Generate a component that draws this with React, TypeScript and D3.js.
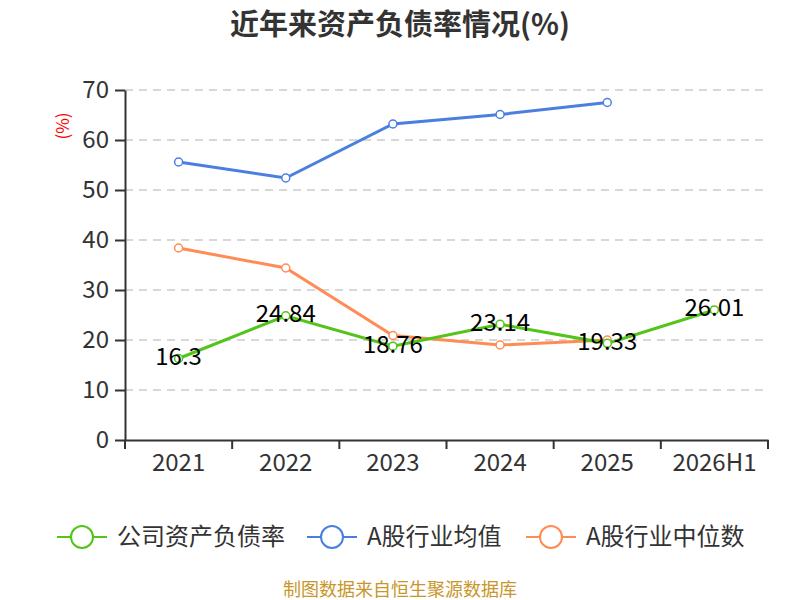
import { useEffect, useRef } from 'react'
import * as d3 from 'd3'

const categories = ['2021', '2022', '2023', '2024', '2025', '2026H1']
const companyRate = [16.3, 24.84, 18.76, 23.14, 19.33, 26.01]
const industryMean = [55.6, 52.4, 63.2, 65.1, 67.5, null]
const industryMedian = [38.4, 34.4, 20.9, 19.0, 20.0, null]
const yTicks = [0, 10, 20, 30, 40, 50, 60, 70]

const seriesNames = ['公司资产负债率', 'A股行业均值', 'A股行业中位数']
const colors = ['#52c41a', '#4a7fe0', '#ff8c55']

const width = 800
const height = 600
const margin = { top: 90, right: 32, bottom: 160, left: 125 }
const font = '"Noto Sans CJK SC", "Noto Sans", sans-serif'

const App = () => {
  const svgRef = useRef<SVGSVGElement>(null)

  useEffect(() => {
    if (!svgRef.current) return
    d3.select(svgRef.current).selectAll('*').remove()
    const svg = d3.select(svgRef.current)

    const x = d3.scaleBand()
      .domain(categories)
      .range([margin.left, width - margin.right])

    const y = d3.scaleLinear()
      .domain([0, 70])
      .range([height - margin.bottom, margin.top])

    const cx = (c: string) => (x(c) || 0) + x.bandwidth() / 2

    // title
    svg.append('text')
      .attr('x', width / 2)
      .attr('y', 35)
      .attr('text-anchor', 'middle')
      .attr('font-family', font)
      .attr('font-size', 29)
      .attr('font-weight', 'bold')
      .attr('fill', '#333')
      .text('近年来资产负债率情况(%)')

    // y axis label
    svg.append('text')
      .attr('transform', `translate(69,126) rotate(-90)`)
      .attr('text-anchor', 'middle')
      .attr('font-family', font)
      .attr('font-size', 17)
      .attr('fill', '#ff0000')
      .text('(%)')

    // grid
    svg.append('g')
      .selectAll('line')
      .data(yTicks.filter(t => t > 0))
      .join('line')
      .attr('x1', margin.left)
      .attr('x2', width - margin.right)
      .attr('y1', d => y(d))
      .attr('y2', d => y(d))
      .attr('stroke', '#ccc')
      .attr('stroke-width', 1.5)
      .attr('stroke-dasharray', '8,6')

    // y axis
    const yAxis = svg.append('g')
      .attr('transform', `translate(${margin.left},0)`)
      .call(d3.axisLeft(y).tickValues(yTicks).tickSize(10).tickPadding(6).tickSizeOuter(0))
    yAxis.selectAll('path, line').attr('stroke', '#333').attr('stroke-width', 2)
    yAxis.selectAll('text')
      .attr('font-family', font)
      .attr('font-size', 24)
      .attr('fill', '#333')

    // x axis
    const xAxis = svg.append('g')
      .attr('transform', `translate(0,${height - margin.bottom})`)
      .call(d3.axisBottom(x).tickSize(0).tickPadding(14).tickSizeOuter(0))
    xAxis.select('path').attr('stroke', '#333').attr('stroke-width', 2)
    xAxis.selectAll('text')
      .attr('font-family', font)
      .attr('font-size', 24)
      .attr('fill', '#333')
    const bounds = categories.map(c => x(c) || 0).concat([width - margin.right])
    xAxis.selectAll('line.bnd')
      .data(bounds)
      .join('line')
      .attr('class', 'bnd')
      .attr('x1', d => d)
      .attr('x2', d => d)
      .attr('y1', 0)
      .attr('y2', 9)
      .attr('stroke', '#333')
      .attr('stroke-width', 2)

    const allSeries = [companyRate, industryMean, industryMedian]
    const drawOrder = [1, 2, 0]

    drawOrder.forEach(si => {
      const vals = allSeries[si]
      const pts = categories
        .map((c, i) => ({ c, v: vals[i] }))
        .filter(d => d.v !== null) as { c: string; v: number }[]

      const line = d3.line<{ c: string; v: number }>()
        .x(d => cx(d.c))
        .y(d => y(d.v))

      svg.append('path')
        .datum(pts)
        .attr('fill', 'none')
        .attr('stroke', colors[si])
        .attr('stroke-width', 3)
        .attr('d', line)

      svg.append('g')
        .selectAll('circle')
        .data(pts)
        .join('circle')
        .attr('cx', d => cx(d.c))
        .attr('cy', d => y(d.v))
        .attr('r', 4)
        .attr('fill', '#fff')
        .attr('stroke', colors[si])
        .attr('stroke-width', 1.5)
    })

    // data labels for company series
    svg.append('g')
      .selectAll('text')
      .data(categories.map((c, i) => ({ c, v: companyRate[i] })))
      .join('text')
      .attr('x', d => cx(d.c))
      .attr('y', d => y(d.v) - 2)
      .attr('dy', '0.35em')
      .attr('text-anchor', 'middle')
      .attr('font-family', font)
      .attr('font-size', 24)
      .attr('fill', '#000')
      .text(d => String(d.v))

    // legend
    const legendX = [57, 307, 526]
    const legend = svg.append('g')
      .selectAll('g')
      .data(seriesNames)
      .join('g')
      .attr('transform', (_, i) => `translate(${legendX[i]},537)`)
    legend.append('line')
      .attr('x1', 0)
      .attr('x2', 50)
      .attr('stroke', (_, i) => colors[i])
      .attr('stroke-width', 2)
    legend.append('circle')
      .attr('cx', 25)
      .attr('r', 11)
      .attr('fill', '#fff')
      .attr('stroke', (_, i) => colors[i])
      .attr('stroke-width', 2)
    legend.append('text')
      .attr('x', 60)
      .attr('dy', '0.35em')
      .attr('font-family', font)
      .attr('font-size', 24)
      .attr('fill', '#333')
      .text(d => d)

    // source
    svg.append('text')
      .attr('x', width / 2)
      .attr('y', 596)
      .attr('text-anchor', 'middle')
      .attr('font-family', font)
      .attr('font-size', 18)
      .attr('fill', '#c8962a')
      .text('制图数据来自恒生聚源数据库')
  }, [])

  return (
    <svg
      ref={svgRef}
      width={width}
      height={height}
      style={{ position: 'absolute', left: 0, top: 0, background: '#fff' }}
    />
  )
}

export default App
